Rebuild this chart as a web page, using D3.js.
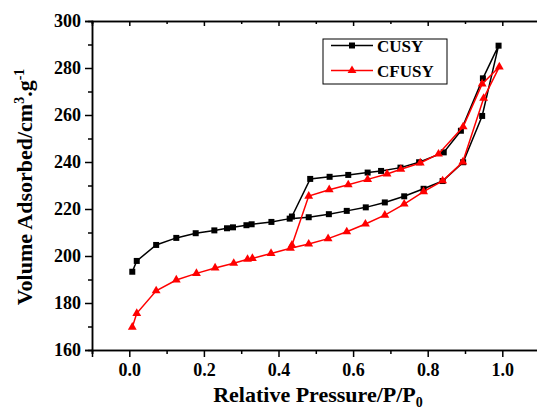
<!DOCTYPE html>
<html>
<head>
<meta charset="utf-8">
<style>
  body { margin: 0; background: #fff; }
  svg text { font-family: "Liberation Serif", "Times New Roman", serif !important; font-weight: bold; }
  .axis path, .axis line { stroke: #000; stroke-width: 1.5px; }
</style>
</head>
<body>
<svg id="chart" width="537" height="412"></svg>
<script src="https://cdn.jsdelivr.net/npm/d3@7"></script>
<script>
// CUSY: adsorption (lower branch) then desorption (upper branch)
var cusyAdsP = [0.008, 0.02, 0.072, 0.126, 0.178, 0.228, 0.262, 0.278, 0.314, 0.328, 0.381, 0.430, 0.481, 0.535, 0.583, 0.634, 0.685, 0.737, 0.789, 0.840, 0.895, 0.946, 0.990];
var cusyAdsV = [193.3, 197.9, 204.7, 207.7, 209.7, 210.9, 211.8, 212.2, 213.1, 213.5, 214.5, 215.9, 216.5, 217.8, 219.2, 220.7, 222.8, 225.4, 228.6, 231.9, 239.9, 259.6, 289.5];
var cusyDesP = [0.948, 0.889, 0.843, 0.777, 0.727, 0.675, 0.639, 0.587, 0.537, 0.485, 0.436];
var cusyDesV = [275.6, 253.3, 244.1, 239.9, 237.6, 236.2, 235.5, 234.5, 233.7, 232.8, 216.8];

// CFUSY
var cfusyAdsP = [0.008, 0.02, 0.072, 0.126, 0.18, 0.23, 0.28, 0.317, 0.33, 0.38, 0.432, 0.481, 0.533, 0.583, 0.633, 0.685, 0.737, 0.789, 0.84, 0.894, 0.95, 0.992];
var cfusyAdsV = [169.7, 175.6, 185.2, 189.8, 192.6, 194.9, 196.9, 198.6, 199.0, 201.1, 203.3, 205.1, 207.4, 210.3, 213.6, 217.4, 222.1, 227.4, 232.0, 240.0, 267.1, 280.5];
var cfusyDesP = [0.946, 0.895, 0.829, 0.78, 0.728, 0.691, 0.639, 0.587, 0.536, 0.481, 0.436];
var cfusyDesV = [273.2, 255.0, 243.4, 239.6, 236.9, 234.9, 232.6, 230.3, 228.2, 225.5, 204.6];

var xTicks = [0.0, 0.2, 0.4, 0.6, 0.8, 1.0];
var yTicks = [160, 180, 200, 220, 240, 260, 280, 300];
var seriesNames = ["CUSY", "CFUSY"];

var svg = d3.select("#chart");
var x = d3.scaleLinear().domain([-0.1, 1.1]).range([92, 539.6]);
var y = d3.scaleLinear().domain([160, 300]).range([350, 21]);

function zip(p, v) { return p.map(function (d, i) { return { p: d, v: v[i] }; }); }
var series = [
  { name: seriesNames[0], color: "#000", sym: d3.symbolSquare, size: 36,
    pts: zip(cusyAdsP, cusyAdsV).concat(zip(cusyDesP, cusyDesV)) },
  { name: seriesNames[1], color: "#ff0000", sym: d3.symbolTriangle, size: 34,
    pts: zip(cfusyAdsP, cfusyAdsV).concat(zip(cfusyDesP, cfusyDesV)) }
];

// minor ticks
var xMinor = [-0.1, 0.1, 0.3, 0.5, 0.7, 0.9, 1.1];
var yMinor = [170, 190, 210, 230, 250, 270, 290];

svg.append("g").attr("class", "axis").attr("transform", "translate(0,350)")
  .call(d3.axisBottom(x).tickValues(xMinor).tickSize(4).tickFormat(""));
svg.append("g").attr("class", "axis").attr("transform", "translate(0,350)")
  .call(d3.axisBottom(x).tickValues(xTicks).tickSize(7).tickPadding(6).tickFormat(d3.format(".1f")))
  .selectAll("text").style("font-size", "18px").attr("fill", "#000");
svg.append("g").attr("class", "axis").attr("transform", "translate(0,21)")
  .call(d3.axisTop(x).tickValues(xTicks).tickSize(-5).tickFormat(""));
svg.append("g").attr("class", "axis").attr("transform", "translate(0,21)")
  .call(d3.axisTop(x).tickValues(xMinor).tickSize(-3).tickFormat(""));

svg.append("g").attr("class", "axis").attr("transform", "translate(92,0)")
  .call(d3.axisLeft(y).tickValues(yMinor).tickSize(4).tickFormat(""));
svg.append("g").attr("class", "axis").attr("transform", "translate(92,0)")
  .call(d3.axisLeft(y).tickValues(yTicks).tickSize(7).tickPadding(4))
  .selectAll("text").style("font-size", "18px").attr("fill", "#000");

var line = d3.line().x(function (d) { return x(d.p); }).y(function (d) { return y(d.v); });

series.forEach(function (s) {
  svg.append("path").datum(s.pts).attr("d", line)
    .attr("fill", "none").attr("stroke", s.color).attr("stroke-width", 1.5);
  svg.selectAll(null).data(s.pts).enter().append("path")
    .attr("d", d3.symbol().type(s.sym).size(s.size))
    .attr("transform", function (d) { return "translate(" + x(d.p) + "," + y(d.v) + ")"; })
    .attr("fill", s.color);
});

// legend
var lg = svg.append("g");
lg.append("rect").attr("x", 323).attr("y", 39).attr("width", 124).attr("height", 45)
  .attr("fill", "#fff").attr("stroke", "#000").attr("stroke-width", 1);
series.forEach(function (s, i) {
  var ly = 45 + i * 25 + 0.5;
  lg.append("line").attr("x1", 331).attr("x2", 373).attr("y1", ly).attr("y2", ly)
    .attr("stroke", s.color).attr("stroke-width", 1.5);
  lg.append("path").attr("d", d3.symbol().type(s.sym).size(s.size))
    .attr("transform", "translate(352," + ly + ")").attr("fill", s.color);
  lg.append("text").attr("x", 377).attr("y", ly + 6).style("font-size", "17px").text(s.name);
});

// axis titles
var yl = svg.append("text").attr("transform", "translate(32,187) rotate(-90)")
  .attr("text-anchor", "middle").style("font-size", "22px");
yl.append("tspan").text("Volume Adsorbed/cm");
yl.append("tspan").style("font-size", "14px").attr("dy", "-8").text("3");
yl.append("tspan").attr("dy", "8").text(".g");
yl.append("tspan").style("font-size", "14px").attr("dy", "-8").text("-1");

var xl = svg.append("text").attr("x", 318).attr("y", 402)
  .attr("text-anchor", "middle").style("font-size", "22px");
xl.append("tspan").text("Relative Pressure/P/P");
xl.append("tspan").style("font-size", "14px").attr("dy", "5").text("0");
</script>
</body>
</html>
